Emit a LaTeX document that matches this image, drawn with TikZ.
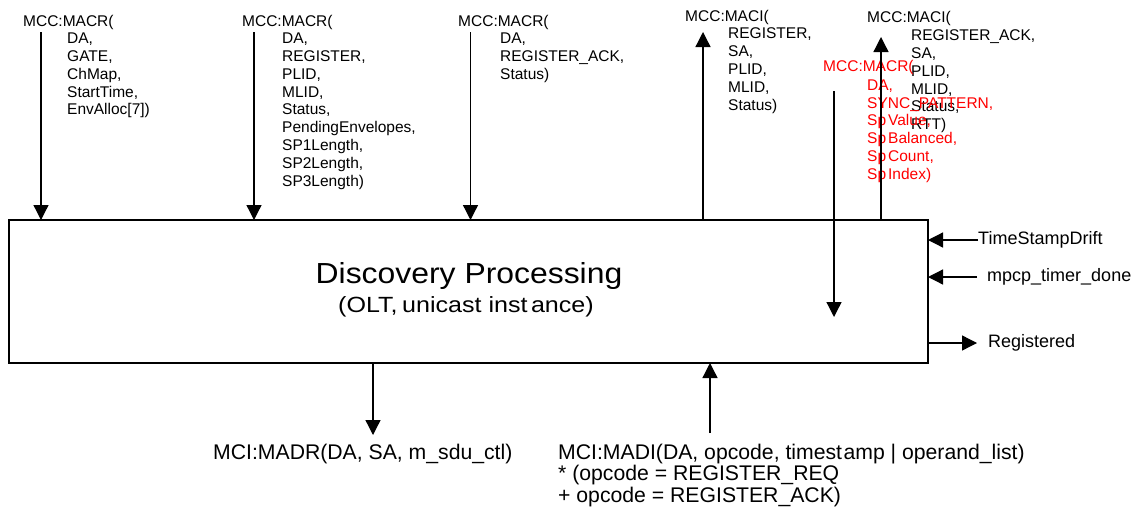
\documentclass[tikz,border=0pt]{standalone}
\usepackage{fontspec}
\setmainfont{Liberation Sans}
\usetikzlibrary{arrows.meta}
\begin{document}
\begin{tikzpicture}[x=1pt,y=-1pt,
  arr/.style={-{Triangle[length=15pt,width=15pt]}, line width=1.3pt},
  lbl/.style={anchor=base west, inner sep=0pt, font=\fontsize{15.5}{17.8}\selectfont},
  side/.style={anchor=west, inner sep=0pt, font=\fontsize{18}{21}\selectfont},
  bot/.style={anchor=base west, inner sep=0pt, font=\fontsize{21.2}{20.5}\selectfont}]
\useasboundingbox (0,0) rectangle (1142,506);
% main box
\node[draw, line width=2.5pt, minimum width=919pt, minimum height=143pt, inner sep=0pt, outer sep=0pt] (dp) at (468.5,291.5) {};
\node[anchor=base, inner sep=0pt, font=\fontsize{29}{29}\selectfont] (title) at (469,283) {\scalebox{1.1}[1]{Discovery Processing}};
\node[anchor=base, inner sep=0pt, font=\fontsize{22}{22}\selectfont] (sub) at (466,312) {\scalebox{1.14}[1]{(OLT,\kern4pt unicast inst\kern3pt ance)}};
% top labels
\node[lbl] (l1) at (23,26) {\begin{tabular}[t]{@{}l@{}}MCC:MACR(\\\hspace*{44pt}DA,\\\hspace*{44pt}GATE,\\\hspace*{44pt}ChMap,\\\hspace*{44pt}StartTime,\\\hspace*{44pt}EnvAlloc[7])\end{tabular}};
\node[lbl] (l2) at (242,26) {\begin{tabular}[t]{@{}l@{}}MCC:MACR(\\\hspace*{40pt}DA,\\\hspace*{40pt}REGISTER,\\\hspace*{40pt}PLID,\\\hspace*{40pt}MLID,\\\hspace*{40pt}Status,\\\hspace*{40pt}PendingEnvelopes,\\\hspace*{40pt}SP1Length,\\\hspace*{40pt}SP2Length,\\\hspace*{40pt}SP3Length)\end{tabular}};
\node[lbl] (l3) at (458,26) {\begin{tabular}[t]{@{}l@{}}MCC:MACR(\\\hspace*{42pt}DA,\\\hspace*{42pt}REGISTER\_ACK,\\\hspace*{42pt}Status)\end{tabular}};
\node[lbl] (l4) at (685,21) {\begin{tabular}[t]{@{}l@{}}MCC:MACI(\\\hspace*{43pt}REGISTER,\\\hspace*{43pt}SA,\\\hspace*{43pt}PLID,\\\hspace*{43pt}MLID,\\\hspace*{43pt}Status)\end{tabular}};
\node[lbl] (l5) at (867,23) {\begin{tabular}[t]{@{}l@{}}MCC:MACI(\\\hspace*{44pt}REGISTER\_ACK,\\\hspace*{44pt}SA,\\\hspace*{44pt}PLID,\\\hspace*{44pt}MLID,\\\hspace*{44pt}Status,\\\hspace*{44pt}RTT)\end{tabular}};
\node[lbl, text=red] (l6) at (823,71) {\begin{tabular}[t]{@{}l@{}}MCC:MACR(\\[1.5pt]\hspace*{44pt}DA,\\\hspace*{44pt}SYNC\_PATTERN,\\\hspace*{44pt}Sp\kern2pt Value,\\\hspace*{44pt}Sp\kern2pt Balanced,\\\hspace*{44pt}Sp\kern2pt Count,\\\hspace*{44pt}Sp\kern2pt Index)\end{tabular}};
% top arrows
\coordinate (a1) at (41,32);
\coordinate (a2) at (254,32);
\coordinate (a3) at (470.5,32);
\coordinate (a4) at (703,32);
\coordinate (a5) at (881,37);
\coordinate (a6s) at (834,91);
\coordinate (a6e) at (834,317);
\draw[arr] (a1) -- (a1 |- dp.north);
\draw[arr] (a2) -- (a2 |- dp.north);
\draw[arr] (a3) -- (a3 |- dp.north);
\draw[arr] (a4 |- dp.north) -- (a4);
\draw[arr] (a5 |- dp.north) -- (a5);
\draw[arr] (a6s) -- (a6e);
% right side
\node[side] (tsd) at (978,240) {TimeStampDrift};
\node[side] (mtd) at (987,277) {mpcp\_timer\_done};
\node[side] (reg) at (988,343) {Registered};
\coordinate (r2) at (977,277);
\coordinate (r3) at (977,343);
\draw[arr] (tsd.west) -- (tsd.west -| dp.east);
\draw[arr] (r2) -- (r2 -| dp.east);
\draw[arr] (r3 -| dp.east) -- (r3);
% bottom
\node[bot] (madr) at (213,459) {MCI:MADR(DA, SA, m\_sdu\_ctl)};
\node[bot] (madi) at (558,459) {\begin{tabular}[t]{@{}l@{}}MCI:MADI(DA, opcode, timest\kern1.5pt amp | operand\_list)\\{}* (opcode = REGISTER\_REQ\\{}+ opcode = REGISTER\_ACK)\end{tabular}};
\coordinate (b1) at (373,435);
\coordinate (b2) at (710,433);
\draw[arr] (b1 |- dp.south) -- (b1);
\draw[arr] (b2) -- (b2 |- dp.south);
\end{tikzpicture}
\end{document}
